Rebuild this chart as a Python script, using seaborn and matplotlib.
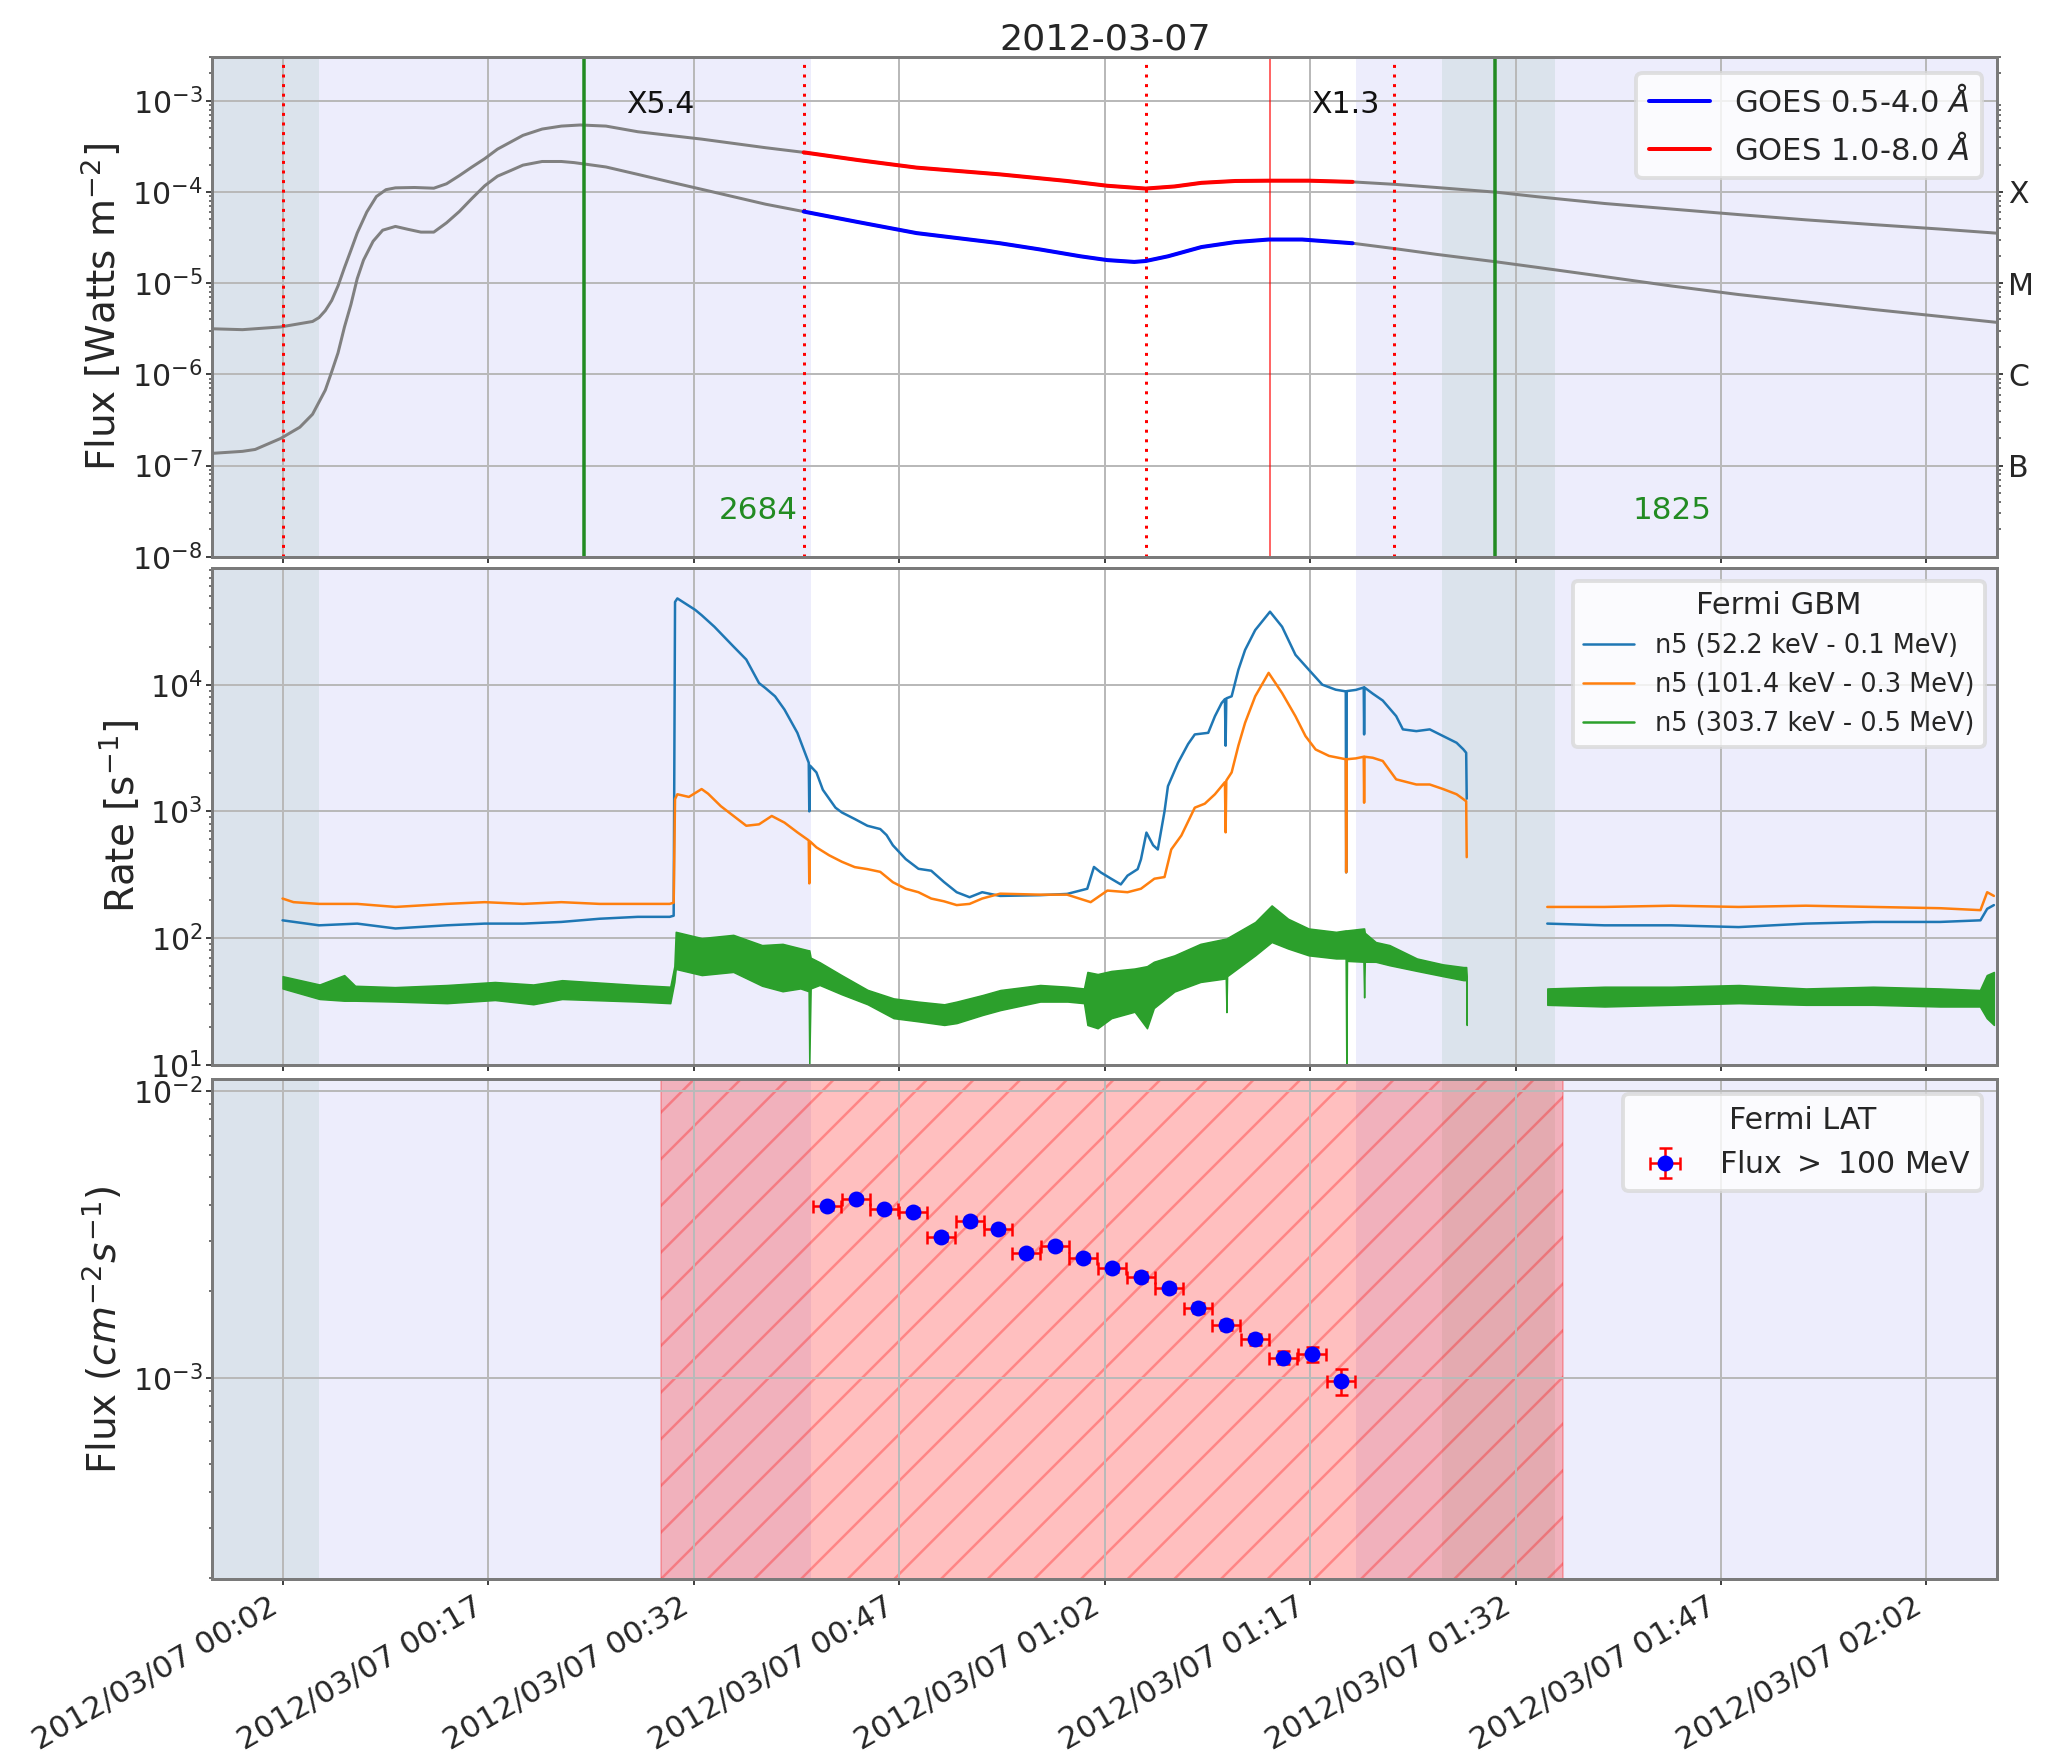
import datetime as dt
import numpy as np
import matplotlib
matplotlib.use("Agg")
import matplotlib.pyplot as plt
import matplotlib.dates as mdates
from matplotlib.lines import Line2D
import seaborn as sns

# ---------------------------------------------------------------
# DATA  (time = minutes after 2012-03-07 00:00 UT)
# ---------------------------------------------------------------
xrs_long_t = [-3.12, -0.93, 1.86, 4.19, 4.66, 5.12, 5.59, 6.05, 6.52, 6.99, 7.45, 8.15,
              8.85, 9.55, 10.24, 11.64, 13.04, 13.97, 14.90, 15.83, 16.76, 17.69, 18.62,
              19.55, 20.95, 22.35, 23.74, 25.61, 27.93, 32.59, 37.25, 40.04, 44.0, 48.28,
              54.37, 59.27, 62.21, 65.01, 67.12, 69.08, 71.53, 73.98, 76.92, 80.11, 83.29,
              86.23, 90.64, 93.59, 98.49, 103.39, 108.29, 113.19, 118.1, 123.0, 127.17]
xrs_long = [3.16e-6, 3.09e-6, 3.31e-6, 3.8e-6, 4.19e-6, 5.0e-6, 6.46e-6, 9.33e-6, 1.48e-5,
            2.29e-5, 3.55e-5, 6.03e-5, 8.91e-5, 1.06e-4, 1.11e-4, 1.12e-4, 1.10e-4, 1.23e-4,
            1.51e-4, 1.88e-4, 2.32e-4, 2.95e-4, 3.51e-4, 4.18e-4, 4.90e-4, 5.28e-4, 5.43e-4,
            5.28e-4, 4.58e-4, 3.80e-4, 3.06e-4, 2.72e-4, 2.24e-4, 1.85e-4, 1.56e-4, 1.32e-4,
            1.17e-4, 1.09e-4, 1.15e-4, 1.26e-4, 1.32e-4, 1.33e-4, 1.33e-4, 1.29e-4, 1.21e-4,
            1.12e-4, 9.93e-5, 8.87e-5, 7.48e-5, 6.50e-5, 5.65e-5, 4.95e-5, 4.39e-5, 3.92e-5,
            3.53e-5]
xrs_short_t = [-3.12, -0.93, 0.0, 1.86, 3.26, 4.19, 5.12, 5.59, 6.05, 6.52, 6.99, 7.45, 7.91,
               8.61, 9.31, 10.24, 11.17, 12.10, 13.04, 13.97, 14.90, 15.83, 16.76, 17.69,
               18.62, 19.55, 20.95, 22.35, 23.28, 25.61, 27.93, 30.26, 32.59, 34.92, 37.25,
               40.04, 44.0, 48.28, 54.37, 57.31, 60.25, 62.21, 64.17, 65.01, 66.63, 69.08,
               71.53, 73.98, 76.43, 80.11, 83.29, 86.23, 90.64, 93.59, 98.49, 103.39, 108.29,
               113.19, 118.1, 123.0, 127.17]
xrs_short = [1.36e-7, 1.43e-7, 1.50e-7, 1.98e-7, 2.63e-7, 3.65e-7, 6.71e-7, 1.07e-6, 1.72e-6,
             3.31e-6, 5.82e-6, 1.12e-5, 1.79e-5, 2.88e-5, 3.81e-5, 4.19e-5, 3.89e-5, 3.63e-5,
             3.63e-5, 4.59e-5, 6.10e-5, 8.51e-5, 1.17e-4, 1.49e-4, 1.71e-4, 1.97e-4, 2.16e-4,
             2.16e-4, 2.10e-4, 1.88e-4, 1.56e-4, 1.29e-4, 1.07e-4, 8.87e-5, 7.35e-5, 6.10e-5,
             4.68e-5, 3.54e-5, 2.74e-5, 2.34e-5, 1.97e-5, 1.79e-5, 1.71e-5, 1.75e-5, 1.97e-5,
             2.49e-5, 2.82e-5, 3.01e-5, 3.01e-5, 2.74e-5, 2.38e-5, 2.07e-5, 1.71e-5, 1.49e-5,
             1.18e-5, 9.31e-6, 7.50e-6, 6.22e-6, 5.15e-6, 4.32e-6, 3.71e-6]
goes_window = [40.04, 80.11]
goes_labels = ["GOES 0.5-4.0 $\\AA$", "GOES 1.0-8.0 $\\AA$"]

# Fermi GBM n5 count rates, segment A (before SAA) and segment B (after)
gbm_low_a_t = [2.0, 4.66, 7.45, 10.24, 13.97, 16.76, 19.55, 22.35, 25.14, 27.93, 30.26, 30.55,
               30.65, 30.82, 32.12, 32.59, 33.52, 34.92, 35.85, 36.78, 37.25, 37.95, 38.64,
               39.58, 40.41, 40.45, 40.50, 40.97, 41.44, 42.36, 42.83, 43.77, 44.69, 45.63,
               46.09, 46.55, 47.49, 48.42, 49.35, 50.28, 51.21, 52.15, 53.07, 54.38, 57.31,
               59.27, 60.74, 61.23, 61.72, 62.46, 63.19, 63.68, 64.42, 64.66, 65.06, 65.55,
               65.89, 66.38, 66.63, 67.36, 68.10, 68.59, 69.57, 70.06, 70.55, 70.79, 70.84,
               70.89, 71.28, 71.77, 72.26, 73.0, 74.08, 74.96, 75.94, 76.92, 77.90, 78.88,
               79.61, 79.64, 79.68, 80.35, 80.92, 80.95, 80.98, 81.58, 82.31, 83.29, 83.78,
               84.76, 85.74, 86.72, 87.70, 88.19, 88.40, 88.44]
gbm_low_a = [138, 126, 130, 119, 126, 130, 130, 134, 142, 147, 147, 150, 45000, 48000, 39000,
             35400, 28700, 20000, 15800, 10300, 9400, 8100, 6360, 4170, 2420, 1000, 2300, 2030,
             1480, 1070, 980, 870, 770, 725, 650, 540, 420, 352, 340, 277, 230, 210, 230, 215,
             218, 223, 245, 364, 330, 295, 265, 311, 350, 418, 680, 540, 500, 1000, 1580, 2410,
             3400, 4050, 4170, 5640, 7170, 7700, 3300, 7800, 8100, 13100, 18800, 27000, 37700,
             28700, 17200, 13100, 10000, 9130, 8860, 330, 8900, 9100, 9500, 4050, 9500, 8500,
             7500, 5650, 4440, 4300, 4440, 3930, 3480, 3090, 2900, 1260]
gbm_low_b_t = [94.32, 98.49, 103.39, 108.29, 113.19, 118.1, 123.0, 125.94, 126.43, 126.92]
gbm_low_b = [130, 126, 126, 122, 130, 134, 134, 138, 170, 182]

gbm_mid_a_t = [2.0, 2.8, 4.66, 7.45, 10.24, 13.97, 16.76, 19.55, 22.35, 25.14, 27.93, 30.26,
               30.55, 30.65, 30.82, 31.66, 32.59, 33.06, 33.99, 34.92, 35.85, 36.78, 37.71,
               38.64, 39.58, 40.41, 40.45, 40.50, 40.97, 41.90, 42.83, 43.77, 44.69, 45.63,
               46.55, 47.49, 48.42, 49.35, 50.28, 51.21, 52.15, 53.07, 54.38, 57.31, 59.27,
               60.99, 62.21, 63.68, 64.66, 65.64, 66.38, 66.87, 67.61, 68.59, 69.32, 70.06,
               70.79, 70.84, 70.89, 71.28, 71.77, 72.26, 73.0, 73.98, 74.96, 75.94, 76.67,
               77.41, 78.39, 79.61, 79.64, 79.68, 80.35, 80.92, 80.95, 80.98, 81.58, 82.31,
               83.29, 84.76, 85.74, 86.72, 87.70, 88.19, 88.40, 88.44]
gbm_mid_a = [205, 192, 186, 186, 176, 186, 192, 186, 192, 186, 186, 186, 190, 1250, 1365, 1300,
             1500, 1380, 1100, 920, 770, 790, 920, 815, 683, 590, 270, 580, 520, 450, 400, 363,
             350, 333, 276, 245, 230, 205, 195, 182, 186, 205, 224, 220, 220, 192, 237, 230,
             245, 294, 303, 500, 645, 1070, 1150, 1365, 1700, 683, 1750, 2030, 3300, 5000, 8100,
             12400, 8600, 5630, 3930, 3080, 2740, 2580, 330, 2580, 2620, 2700, 1170, 2700, 2650,
             2500, 1790, 1630, 1630, 1500, 1365, 1250, 1200, 435]
gbm_mid_b_t = [94.32, 98.49, 103.39, 108.29, 113.19, 118.1, 123.0, 125.94, 126.43, 126.92]
gbm_mid_b = [176, 176, 180, 176, 180, 176, 172, 166, 230, 215]

gbm_high_a_t = [2.0, 4.7, 6.5, 7.3, 10.2, 14.0, 17.5, 20.3, 22.4, 27.9, 30.3, 30.6, 30.7, 32.6,
                34.9, 37.0, 38.5, 39.8, 40.4, 40.45, 40.55, 41.2, 42.8, 44.7, 46.6, 48.4, 50.3,
                51.2, 53.1, 54.4, 57.3, 59.3, 60.5, 60.75, 61.5, 62.5, 64.2, 65.1, 65.6, 67.1,
                69.0, 70.85, 70.9, 70.95, 73.0, 74.2, 75.4, 76.9, 78.9, 79.6, 79.65, 79.7, 80.9,
                80.95, 81.0, 81.8, 82.8, 84.8, 86.7, 88.2, 88.40, 88.44]
gbm_high_a_lo = [40, 33, 32, 32, 31.5, 30.6, 32.4, 30, 33, 31.5, 30.6, 45, 57, 51, 54, 42, 38,
                 40, 38, 10, 40, 42.6, 36, 30, 23.3, 22, 20.6, 21.3, 24.7, 27, 31.5, 31.5, 30.6,
                 20.6, 19.4, 23.3, 26.2, 19.4, 28, 37.8, 45, 48, 26, 50, 73, 93, 82.6, 73, 69,
                 69, 10, 66, 65, 34, 65, 64.9, 61, 55, 50, 46.5, 46.5, 20.6]
gbm_high_a_hi = [50, 43, 51, 42, 41, 42.6, 45, 43, 46.5, 42.6, 41.3, 60, 112, 100, 106, 88, 90,
                 83, 80, 80, 70, 64.5, 51, 39, 33.4, 31.5, 30, 31.5, 35.5, 38.9, 42.6, 41.3, 40,
                 54, 52, 55, 57.5, 60, 65, 73, 90, 99, 99, 100, 134, 181, 142, 119, 112, 115,
                 115, 115, 119, 119, 110, 93, 88, 69, 62, 59, 59, 50]
gbm_high_b_t = [94.32, 98.5, 103.4, 108.3, 113.2, 118.1, 123.0, 125.9, 126.4, 126.92]
gbm_high_b_lo = [29.7, 28.8, 29.7, 30.6, 29.7, 29.7, 28.8, 28.8, 23.3, 20.6]
gbm_high_b_hi = [40, 41.3, 41.3, 42.6, 40, 41.3, 40, 38.9, 51, 54]
gbm_labels = ["n5 (52.2 keV - 0.1 MeV)", "n5 (101.4 keV - 0.3 MeV)", "n5 (303.7 keV - 0.5 MeV)"]

# Fermi LAT flux > 100 MeV
lat_t = [41.77, 43.84, 45.93, 48.00, 50.07, 52.16, 54.20, 56.27, 58.39, 60.45, 62.57, 64.64,
         66.73, 68.80, 70.87, 72.96, 75.05, 77.12, 79.24]
lat_flux = [3.98e-3, 4.19e-3, 3.87e-3, 3.79e-3, 3.11e-3, 3.53e-3, 3.30e-3, 2.72e-3, 2.88e-3,
            2.62e-3, 2.42e-3, 2.25e-3, 2.06e-3, 1.75e-3, 1.53e-3, 1.36e-3, 1.175e-3, 1.21e-3,
            9.74e-4]
lat_flux_err = [1.2e-4, 1.3e-4, 1.2e-4, 1.2e-4, 1.0e-4, 1.1e-4, 1.0e-4, 0.9e-4, 0.9e-4, 0.9e-4,
                0.8e-4, 0.8e-4, 0.7e-4, 0.7e-4, 0.6e-4, 0.6e-4, 0.6e-4, 0.75e-4, 1.0e-4]
lat_bin_half = 1.03
lat_window = (29.64, 95.49)

# events / intervals
night_spans = [(-10.0, 40.6), (80.36, 140.0)]
saa_spans = [(-10.0, 4.66), (86.6, 94.86)]
red_dotted_t = [2.0, 40.04, 65.0, 83.15]
green_line_t = [24.02, 90.5]
red_line_t = [74.08]
flare_texts = [(29.55, "X5.4"), (79.6, "X1.3")]
green_texts = [(39.58, "2684", "right"), (103.4, "1825", "center")]
xtick_minutes = [2, 17, 32, 47, 62, 77, 92, 107, 122]
x_range = (-3.12, 127.17)

# ---------------------------------------------------------------
DPI = 280
W, H = 2053, 1759


def P(px):
    return px * 72.0 / DPI


BASE = mdates.date2num(dt.datetime(2012, 3, 7))


def T(m):
    return BASE + np.asarray(m, dtype=float) / 1440.0


sns.set_theme(style="whitegrid")
plt.rcParams.update({
    "font.family": ["DejaVu Sans"],
    "mathtext.fontset": "dejavusans",
    "hatch.linewidth": P(2.5),
    "axes.axisbelow": True,
    "legend.frameon": True,
    "legend.framealpha": 0.8,
    "legend.edgecolor": "0.85",
})

fig = plt.figure(figsize=((W + 0.01) / DPI, (H + 0.01) / DPI), dpi=DPI)
fig.patch.set_facecolor("white")
L, R = 0.10346, 0.97287
ax1 = fig.add_axes([L, 0.68351, R - L, 0.96742 - 0.68351])
ax2 = fig.add_axes([L, 0.39471, R - L, 0.67692 - 0.39471], sharex=ax1)
ax3 = fig.add_axes([L, 0.10216, R - L, 0.38641 - 0.10216], sharex=ax1)

LAV = "#ededfc"
SAA = "#dbe3ec"
C_BLUE, C_ORANGE, C_GREEN = "#1f77b4", "#ff7f0e", "#2ca02c"
SPINE = "#7a7a7a"

for ax in (ax1, ax2, ax3):
    for a, b in night_spans:
        ax.axvspan(T(a), T(b), color=LAV, lw=0, zorder=0.1)
    for a, b in saa_spans:
        ax.axvspan(T(a), T(b), color=SAA, lw=0, zorder=0.15)

# ---------------- panel 1 : GOES ----------------
lt, lv = np.array(xrs_long_t), np.array(xrs_long)
st, sv = np.array(xrs_short_t), np.array(xrs_short)
kw = dict(estimator=None, sort=False, legend=False)
sns.lineplot(x=T(lt), y=lv, ax=ax1, color="gray", lw=P(3), **kw)
sns.lineplot(x=T(st), y=sv, ax=ax1, color="gray", lw=P(3), **kw)
ml = (lt >= goes_window[0]) & (lt <= goes_window[1])
ms_ = (st >= goes_window[0]) & (st <= goes_window[1])
sns.lineplot(x=T(st[ms_]), y=sv[ms_], ax=ax1, color="blue", lw=P(4), zorder=3, **kw)
sns.lineplot(x=T(lt[ml]), y=lv[ml], ax=ax1, color="red", lw=P(4), zorder=3, **kw)

for t in red_dotted_t:
    ax1.axvline(T(t), color="red", ls=(0, (1, 2.2)), lw=P(3), zorder=2.5)
for t in green_line_t:
    ax1.axvline(T(t), color="forestgreen", lw=P(3.5), zorder=2.6)
for t in red_line_t:
    ax1.axvline(T(t), color="red", lw=P(2), alpha=0.6, zorder=2.6)

ax1.set_yscale("log")
ax1.set_ylim(1e-8, 3.0e-3)
for t, s in flare_texts:
    ax1.text(T(t), 9.1e-4, s, ha="center", va="center", fontsize=P(30), color="#111111")
for t, s, ha in green_texts:
    ax1.text(T(t), 3.2e-8, s, ha=ha, va="center", fontsize=P(31), color="forestgreen")

ax1.legend(handles=[Line2D([], [], color="blue", lw=P(4)), Line2D([], [], color="red", lw=P(4))],
           labels=goes_labels, loc="upper right", fontsize=P(30.6))
ax1.set_ylabel(r"Flux [Watts m$^{-2}$]", fontsize=P(39), labelpad=P(8))
ax1.set_title("2012-03-07", fontsize=P(36.5), pad=P(8))

# ---------------- panel 2 : GBM ----------------
sns.lineplot(x=T(gbm_low_a_t), y=gbm_low_a, ax=ax2, color=C_BLUE, lw=P(2.5), **kw)
sns.lineplot(x=T(gbm_low_b_t), y=gbm_low_b, ax=ax2, color=C_BLUE, lw=P(2.5), **kw)
sns.lineplot(x=T(gbm_mid_a_t), y=gbm_mid_a, ax=ax2, color=C_ORANGE, lw=P(2.5), **kw)
sns.lineplot(x=T(gbm_mid_b_t), y=gbm_mid_b, ax=ax2, color=C_ORANGE, lw=P(2.5), **kw)
ax2.fill_between(T(gbm_high_a_t), gbm_high_a_lo, gbm_high_a_hi, color=C_GREEN, lw=P(1.5), zorder=2)
ax2.fill_between(T(gbm_high_b_t), gbm_high_b_lo, gbm_high_b_hi, color=C_GREEN, lw=P(1.5), zorder=2)
ax2.set_yscale("log")
ax2.set_ylim(10, 8.3e4)
ax2.legend(handles=[Line2D([], [], color=c, lw=P(2.5)) for c in (C_BLUE, C_ORANGE, C_GREEN)],
           labels=gbm_labels, title="Fermi GBM", loc="upper right",
           fontsize=P(25.6), title_fontsize=P(30.5))
ax2.set_ylabel(r"Rate [s$^{-1}$]", fontsize=P(39), labelpad=P(8))

# ---------------- panel 3 : LAT ----------------
ax3.axvspan(T(lat_window[0]), T(lat_window[1]), facecolor=(1, 0, 0, 0.25),
            edgecolor=(1, 0, 0, 0.3), hatch="//", lw=P(1.5), zorder=0.3)
ax3.errorbar(T(lat_t), lat_flux, xerr=lat_bin_half / 1440.0, yerr=lat_flux_err, fmt="o",
             color="blue", mec="blue", ecolor="red", ms=P(12), capsize=P(6.5),
             elinewidth=P(2.5), capthick=P(2.5), zorder=3, label="Flux $>$ 100 MeV")
ax3.set_yscale("log")
ax3.set_ylim(1.98e-4, 1.1e-2)
ax3.legend(title="Fermi LAT", loc="upper right", fontsize=P(30), title_fontsize=P(30))
ax3.set_ylabel(r"Flux ($cm^{-2}s^{-1}$)", fontsize=P(39), labelpad=P(8))

# ---------------- common styling ----------------
for ax in (ax1, ax2, ax3):
    ax.grid(True, which="major", color="#b9b9b9", lw=P(2))
    ax.grid(False, which="minor")
    for s in ax.spines.values():
        s.set_color(SPINE)
        s.set_linewidth(P(3))
    ax.tick_params(axis="both", which="major", direction="out", length=P(6), width=P(2),
                   color="#444444", labelsize=P(30), pad=P(4), bottom=True, left=True)
    ax.tick_params(axis="y", which="minor", direction="out", length=P(3.5), width=P(1.5),
                   color="#444444", left=True)

ax3.set_xlim(T(x_range[0]), T(x_range[1]))
ax3.set_xticks(T(xtick_minutes))
ax3.xaxis.set_major_formatter(mdates.DateFormatter("%Y/%m/%d %H:%M"))
ax1.tick_params(axis="x", labelbottom=False)
ax2.tick_params(axis="x", labelbottom=False)
ax3.tick_params(axis="x", labelsize=P(31), pad=P(6))
for lab in ax3.get_xticklabels():
    lab.set_rotation(30)
    lab.set_ha("right")

# right-hand GOES class axis
axr = ax1.twinx()
axr.set_yscale("log")
axr.set_ylim(ax1.get_ylim())
axr.set_yticks([1e-7, 1e-6, 1e-5, 1e-4])
axr.set_yticklabels(["B", "C", "M", "X"])
axr.grid(False)
for s in axr.spines.values():
    s.set_color(SPINE)
    s.set_linewidth(P(3))
axr.tick_params(axis="y", which="major", right=True, direction="out", length=P(6), width=P(2),
                color="#444444", labelsize=P(30), pad=P(5))
axr.tick_params(axis="y", which="minor", right=True, direction="out", length=P(3.5),
                width=P(1.5), color="#444444")

fig.savefig("out.png", dpi=DPI, facecolor="white")
